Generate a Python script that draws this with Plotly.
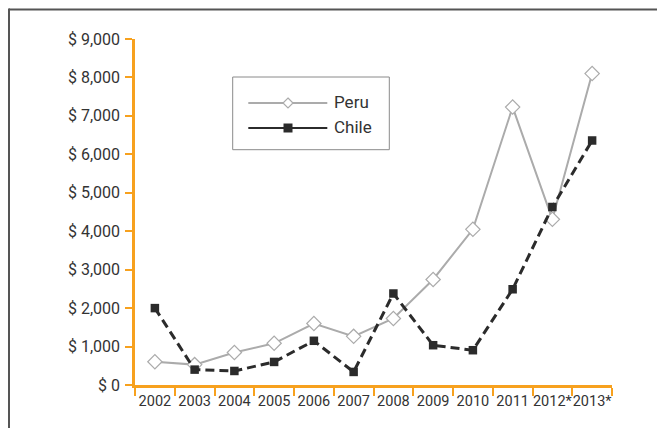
import plotly.graph_objects as go

years = ["2002", "2003", "2004", "2005", "2006", "2007", "2008", "2009", "2010", "2011", "2012*", "2013*"]
peru = [605, 530, 845, 1085, 1600, 1265, 1730, 2745, 4050, 7230, 4310, 8100]
chile = [2000, 400, 365, 600, 1150, 340, 2380, 1035, 905, 2490, 4630, 6360]
y_ticks = [0, 1000, 2000, 3000, 4000, 5000, 6000, 7000, 8000, 9000]
y_labels = ["$ " + f"{v:,}" for v in y_ticks]

ORANGE = "#F7A11E"
TXT = "#333333"
PERU_C = "#ABABAB"
CHILE_C = "#2B2B2B"
FONT = "Roboto"

fig = go.Figure()
fig.add_trace(go.Scatter(
    x=years, y=peru, mode="lines+markers", name="Peru", showlegend=False,
    line=dict(color=PERU_C, width=2),
    marker=dict(symbol="diamond", size=11, color="white", line=dict(color=PERU_C, width=1.2)),
    hoverinfo="skip"))
fig.add_trace(go.Scatter(
    x=years, y=chile, mode="lines+markers", name="Chile", showlegend=False,
    line=dict(color=CHILE_C, width=3, dash="9px,5px"),
    marker=dict(symbol="square", size=8.5, color=CHILE_C),
    hoverinfo="skip"))

# page is offset by the 8px body margin; positions below are page pixels
OFF = 8
L, R, T, B = 135 - OFF, 612 - OFF, 39.3 - OFF, 385.3 - OFF
W, H = R - L, B - T
def px(x):
    return (x - OFF - L) / W
def py(y):
    return (B - (y - OFF)) / H

shapes = [
    # frame (top and left edges)
    dict(type="line", xref="paper", yref="paper", x0=px(9), x1=px(700), y0=py(9.7), y1=py(9.7),
         line=dict(color="#555555", width=2)),
    dict(type="line", xref="paper", yref="paper", x0=px(9), x1=px(9), y0=py(8.7), y1=py(460),
         line=dict(color="#555555", width=2)),
    # legend box
    dict(type="rect", xref="paper", yref="paper", x0=px(232.7), x1=px(389.3), y0=py(150), y1=py(77.3),
         line=dict(color="#8A8A8A", width=1), fillcolor="white"),
    dict(type="line", xref="paper", yref="paper", x0=px(248.3), x1=px(327.3), y0=py(103.3), y1=py(103.3),
         line=dict(color=PERU_C, width=2)),
    dict(type="line", xref="paper", yref="paper", x0=px(248.3), x1=px(327.3), y0=py(128.3), y1=py(128.3),
         line=dict(color=CHILE_C, width=2)),
    dict(type="path", xref="paper", yref="paper", xsizemode="pixel", ysizemode="pixel",
         xanchor=px(288), yanchor=py(103.3), path="M0,5 L5,0 L0,-5 L-5,0 Z",
         fillcolor="white", line=dict(color=PERU_C, width=1.2)),
    dict(type="rect", xref="paper", yref="paper", xsizemode="pixel", ysizemode="pixel",
         xanchor=px(288), yanchor=py(128.3), x0=-4.5, x1=4.5, y0=-4.5, y1=4.5,
         fillcolor=CHILE_C, line=dict(width=0)),
]
annotations = [
    dict(xref="paper", yref="paper", x=px(332), y=py(102.5), text="Peru", showarrow=False,
         xanchor="left", yanchor="middle", font=dict(family=FONT, size=17, color=TXT)),
    dict(xref="paper", yref="paper", x=px(332), y=py(127.5), text="Chile", showarrow=False,
         xanchor="left", yanchor="middle", font=dict(family=FONT, size=17, color=TXT)),
]

fig.update_layout(
    width=665, height=428,
    margin=dict(l=L, r=665 - R, t=T, b=428 - B),
    paper_bgcolor="white", plot_bgcolor="white",
    font=dict(family=FONT, color=TXT),
    shapes=shapes, annotations=annotations,
    showlegend=False,
    xaxis=dict(type="category", categoryorder="array", categoryarray=years,
               range=[-0.5, len(years) - 0.5], automargin=False, tickangle=0,
               showline=True, linecolor=ORANGE, linewidth=2.5,
               ticks="outside", tickson="boundaries", ticklen=8, tickwidth=2, tickcolor=ORANGE,
               ticklabelstandoff=1,
               showgrid=False, zeroline=False,
               tickfont=dict(family=FONT, size=14.5, color=TXT)),
    yaxis=dict(range=[0, 9000], tickvals=y_ticks, ticktext=y_labels, automargin=False,
               showline=True, linecolor=ORANGE, linewidth=2.5,
               ticks="outside", ticklen=7, tickwidth=2, tickcolor=ORANGE,
               ticklabelstandoff=2,
               showgrid=False, zeroline=False,
               tickfont=dict(family=FONT, size=16, color=TXT)),
)

fig.write_html("out.html")
